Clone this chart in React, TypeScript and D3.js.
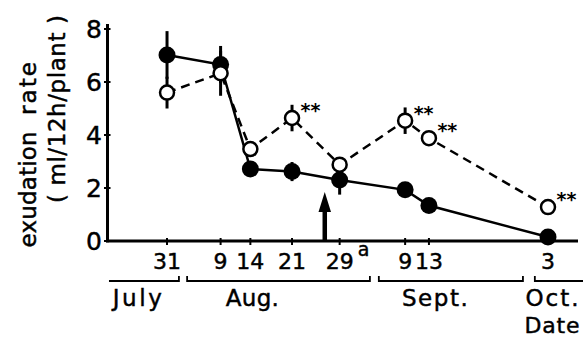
import React from "react";
import * as d3 from "d3";

const parseDay = d3.timeParse("%Y-%m-%d %H");

// sampling dates (1980 used only as a calendar anchor)
const sampleDates = ["1980-07-31 00", "1980-08-09 00", "1980-08-14 00", "1980-08-21 00", "1980-08-29 00", "1980-09-09 00", "1980-09-13 00", "1980-10-03 00"];
const tickLabels = ["31", "9", "14", "21", "29", "9", "13", "3"];
const tickSuperscripts = ["", "", "", "", "a", "", "", ""];

// filled circles (solid line)
const filledValues = [7.02, 6.66, 2.72, 2.62, 2.3, 1.93, 1.34, 0.15];
const filledErrors = [0.9, 0.7, 0.1, 0.36, 0.55, 0.1, 0.1, 0.1];

// open circles (dashed line)
const openValues = [5.6, 6.33, 3.47, 4.64, 2.88, 4.54, 3.88, 1.28];
const openErrors = [0.6, 0.85, 0.15, 0.5, 0.15, 0.5, 0.1, 0.2];
const openSignificance = ["", "", "", "**", "", "**", "**", "**"];

const yTicks = [0, 2, 4, 6, 8];

// month brackets under the axis
const monthLabels = ["July", "Aug.", "Sept.", "Oct."];
const monthLabelDates = ["1980-07-26 00", "1980-08-14 08", "1980-09-14 00", "1980-10-03 16"];
const bracketStarts = ["1980-07-21 06", "1980-08-03 09", "1980-09-04 14", "1980-09-30 19"];
const bracketEnds = ["1980-08-02 00", "1980-09-03 02", "1980-09-28 19", "1980-10-09 23"];
const bracketLeftCap = [false, true, true, true];
const bracketRightCap = [true, true, true, false];

const arrowDate = "1980-08-26 12";
const arrowTipValue = 1.85;

const FONT = "'DejaVu Sans', Verdana, sans-serif";

export default function App() {
  const W = 583, H = 339;
  const x = d3.scaleTime()
    .domain([parseDay("1980-07-21 00")!, parseDay("1980-10-08 01")!])
    .range([107.5, 578]);
  const y = d3.scaleLinear().domain([0, 8]).range([241, 29]);

  const pts = sampleDates.map((d, i) => ({
    x: x(parseDay(d)!),
    f: filledValues[i], fe: filledErrors[i],
    o: openValues[i], oe: openErrors[i],
    sig: openSignificance[i],
    lab: tickLabels[i], sup: tickSuperscripts[i],
  }));

  const lineF = d3.line<typeof pts[0]>().x(p => p.x).y(p => y(p.f));
  const lineO = d3.line<typeof pts[0]>().x(p => p.x).y(p => y(p.o));

  const x0 = x.range()[0];
  const x1 = x.range()[1];
  const ax = x(parseDay(arrowDate)!);
  const aTip = y(arrowTipValue);
  const headH = 20, headW = 12.5, shaftW = 4.5;

  const bracketY = 281;
  const thick = { stroke: "#000", strokeWidth: 0.45 };

  return (
    <svg width={W} height={H} style={{ position: "absolute", left: 0, top: 0, background: "#fff" }}
      fontFamily={FONT}>
      <rect x={0} y={0} width={W} height={H} fill="#fff" />
      {/* y-axis label */}
      <text transform={`translate(36,${(247 + 132) / 2}) rotate(-90)`} textAnchor="middle" fontSize={23}
        textLength={116} lengthAdjust="spacing" {...thick}>exudation</text>
      <text transform={`translate(36,${(115 + 62) / 2}) rotate(-90)`} textAnchor="middle" fontSize={23}
        textLength={53} lengthAdjust="spacing" {...thick}>rate</text>
      <text transform={`translate(65,109) rotate(-90)`} textAnchor="middle" fontSize={23}
        textLength={188} lengthAdjust="spacing" style={{ whiteSpace: "pre" }} {...thick}>( ml/12h/plant )</text>

      {/* axes */}
      <line x1={x0} x2={x0} y1={y(0) + 1.3} y2={24} stroke="#000" strokeWidth={3} />
      <line x1={x0 - 1.5} x2={x1} y1={y(0)} y2={y(0)} stroke="#000" strokeWidth={2.8} />
      {yTicks.map(t => (
        <g key={t}>
          <line x1={x0 - 3.5} x2={x0 + 3} y1={y(t)} y2={y(t)} stroke="#000" strokeWidth={2} />
          <text x={102} y={y(t) + 9} textAnchor="end" fontSize={25} {...thick}>{t}</text>
        </g>
      ))}
      {pts.map((p, i) => (
        <g key={"xt" + i}>
          <line x1={p.x} x2={p.x} y1={y(0) - 3} y2={y(0) + 4} stroke="#000" strokeWidth={2} />
          <text x={p.x} y={269} textAnchor="middle" fontSize={22} {...thick}>{p.lab}</text>
          {p.sup && <text x={p.x + 24} y={256} textAnchor="middle" fontSize={19} {...thick}>{p.sup}</text>}
        </g>
      ))}

      {/* month brackets */}
      {monthLabels.map((m, i) => {
        const bx0 = x(parseDay(bracketStarts[i])!);
        const bx1 = x(parseDay(bracketEnds[i])!);
        const d = `M${bx0},${bracketY - (bracketLeftCap[i] ? 5 : 0)} L${bx0},${bracketY} L${bx1},${bracketY} L${bx1},${bracketY - (bracketRightCap[i] ? 5 : 0)}`;
        const lx = x(parseDay(monthLabelDates[i])!);
        const lens = [49, 53, 66, 53];
        return (
          <g key={m}>
            <path d={d} fill="none" stroke="#000" strokeWidth={1.8} />
            <text x={lx} y={306} textAnchor="middle" fontSize={23} textLength={lens[i]} lengthAdjust="spacing" {...thick}>{m}</text>
          </g>
        );
      })}
      <text x={x(parseDay(monthLabelDates[3])!)} y={333} textAnchor="middle" fontSize={22}
        textLength={55} lengthAdjust="spacing" {...thick}>Date</text>

      {/* arrow */}
      <rect x={ax - shaftW / 2} y={aTip + headH - 1} width={shaftW} height={y(0) - (aTip + headH - 1)} fill="#000" />
      <path d={`M${ax},${aTip} L${ax + headW / 2},${aTip + headH} L${ax - headW / 2},${aTip + headH} Z`} fill="#000" />

      {/* lines */}
      <path d={lineF(pts) || ""} fill="none" stroke="#000" strokeWidth={2.5} />
      <path d={lineO(pts) || ""} fill="none" stroke="#000" strokeWidth={2.5} strokeDasharray="9,6" />

      {/* error bars */}
      {pts.map((p, i) => (
        <g key={"eb" + i}>
          <line x1={p.x} x2={p.x} y1={y(p.f - p.fe)} y2={y(p.f + p.fe)} stroke="#000" strokeWidth={3} />
          <line x1={p.x} x2={p.x} y1={y(p.o - p.oe)} y2={y(p.o + p.oe)} stroke="#000" strokeWidth={3} />
        </g>
      ))}

      {/* markers */}
      {pts.map((p, i) => (
        <circle key={"f" + i} cx={p.x} cy={y(p.f)} r={8.5} fill="#000" />
      ))}
      {pts.map((p, i) => (
        <circle key={"o" + i} cx={p.x} cy={y(p.o)} r={7} fill="#fff" stroke="#000" strokeWidth={2.5} />
      ))}
      {pts.map((p, i) => p.sig ? (
        <text key={"s" + i} x={p.x + 8.5} y={y(p.o) - 1} fontSize={19} fontWeight="bold">{p.sig}</text>
      ) : null)}
    </svg>
  );
}
